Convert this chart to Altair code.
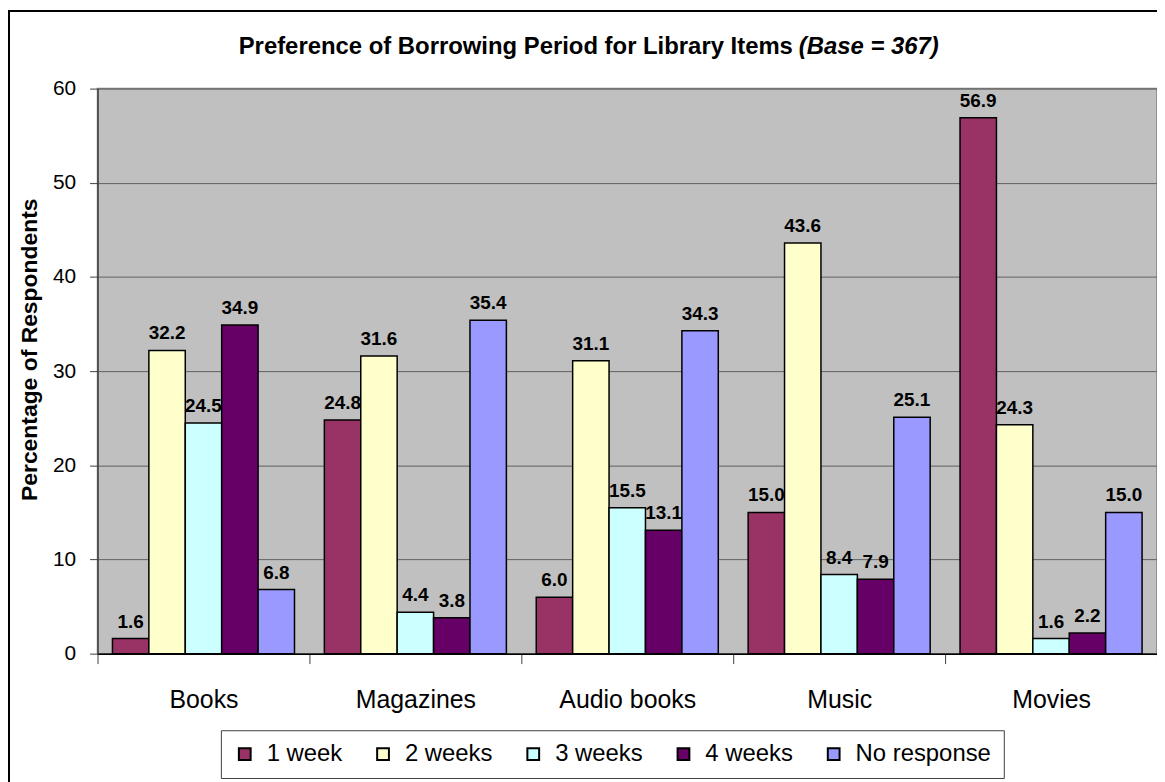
import altair as alt
import pandas as pd

categories = ["Books", "Magazines", "Audio books", "Music", "Movies"]
periods = ["1 week", "2 weeks", "3 weeks", "4 weeks", "No response"]
colors = ["#993366", "#FFFFCC", "#CCFFFF", "#660066", "#9999FF"]

week1 = [1.6, 24.8, 6.0, 15.0, 56.9]
week2 = [32.2, 31.6, 31.1, 43.6, 24.3]
week3 = [24.5, 4.4, 15.5, 8.4, 1.6]
week4 = [34.9, 3.8, 13.1, 7.9, 2.2]
no_response = [6.8, 35.4, 34.3, 25.1, 15.0]

title_main = "Preference of Borrowing Period for Library Items"
title_base = "(Base = 367)"
y_title = "Percentage of Respondents"

series = [week1, week2, week3, week4, no_response]
rows = []
for p, vals in zip(periods, series):
    for c, v in zip(categories, vals):
        rows.append({"Category": c, "Period": p, "Value": v})
df = pd.DataFrame(rows)

W, H = 1065, 568
SANS = "Liberation Sans"

x_enc = alt.X(
    "Category:N",
    sort=categories,
    scale=alt.Scale(paddingInner=0, paddingOuter=0),
    axis=alt.Axis(
        title=None,
        labelAngle=0,
        tickBand="extent",
        tickSize=10,
        tickColor="#404040",
        domainColor="black",
        domainWidth=1.5,
        labelFont=SANS,
        labelFontSize=25,
        labelColor="black",
        labelPadding=24,
        grid=False,
    ),
)
xoff_enc = alt.XOffset(
    "Period:N",
    sort=periods,
    scale=alt.Scale(paddingInner=0, paddingOuter=0.41),
)
y_enc = alt.Y(
    "Value:Q",
    scale=alt.Scale(domain=[0, 60], nice=False),
    axis=alt.Axis(
        values=[0, 10, 20, 30, 40, 50, 60],
        title=y_title,
        titleFont=SANS,
        titleFontSize=23,
        titleFontWeight="bold",
        titleColor="black",
        titleX=-56,
        titleY=262,
        labelFont=SANS,
        labelFontSize=21,
        labelColor="black",
        labelPadding=14,
        tickSize=8,
        tickColor="#404040",
        domainColor="#404040",
        domainWidth=1.5,
        grid=True,
        gridColor="#606060",
        gridWidth=1,
    ),
)

base = alt.Chart(df).encode(x=x_enc, xOffset=xoff_enc, y=y_enc)

bars = base.mark_bar(stroke="black", strokeWidth=1.5).encode(
    color=alt.Color(
        "Period:N",
        sort=periods,
        scale=alt.Scale(domain=periods, range=colors),
        legend=alt.Legend(
            title=None,
            orient="none",
            legendX=124,
            legendY=645,
            direction="horizontal",
            strokeColor="#404040",
            fillColor="white",
            padding=12,
            symbolType="square",
            symbolSize=140,
            symbolStrokeColor="black",
            symbolStrokeWidth=2,
            labelFont=SANS,
            labelFontSize=24,
            labelColor="black",
            labelOffset=10,
            columnPadding=28,
        ),
    )
)

labels = base.mark_text(
    baseline="bottom", dy=-7, font=SANS, fontSize=19, fontWeight="bold", color="black"
).encode(text=alt.Text("Value:Q", format=".1f"))

t1 = alt.Chart(pd.DataFrame({"t": [title_main]})).mark_text(
    align="right", baseline="alphabetic", font=SANS, fontSize=24, fontWeight="bold", color="black"
).encode(text="t:N", x=alt.value(699), y=alt.value(-35))

t2 = alt.Chart(pd.DataFrame({"t": [title_base]})).mark_text(
    align="left", baseline="alphabetic", font=SANS, fontSize=24, fontWeight="bold",
    fontStyle="italic", color="black"
).encode(text="t:N", x=alt.value(705), y=alt.value(-35))

frame = alt.Chart(pd.DataFrame({"a": [0]})).mark_rect(
    filled=False, stroke="black", strokeWidth=2
).encode(x=alt.value(-89), x2=alt.value(1100), y=alt.value(-78), y2=alt.value(720))

chart = alt.layer(bars, labels, t1, t2, frame).properties(
    width=W,
    height=H,
    autosize=alt.AutoSizeParams(type="none"),
    padding={"left": 90, "top": 79, "right": 0, "bottom": 127},
    background="white",
).configure_view(
    fill="#C0C0C0", stroke="#808080", strokeWidth=1.5
)

chart.save("out.html", embed_options={"renderer": "svg", "actions": False})
